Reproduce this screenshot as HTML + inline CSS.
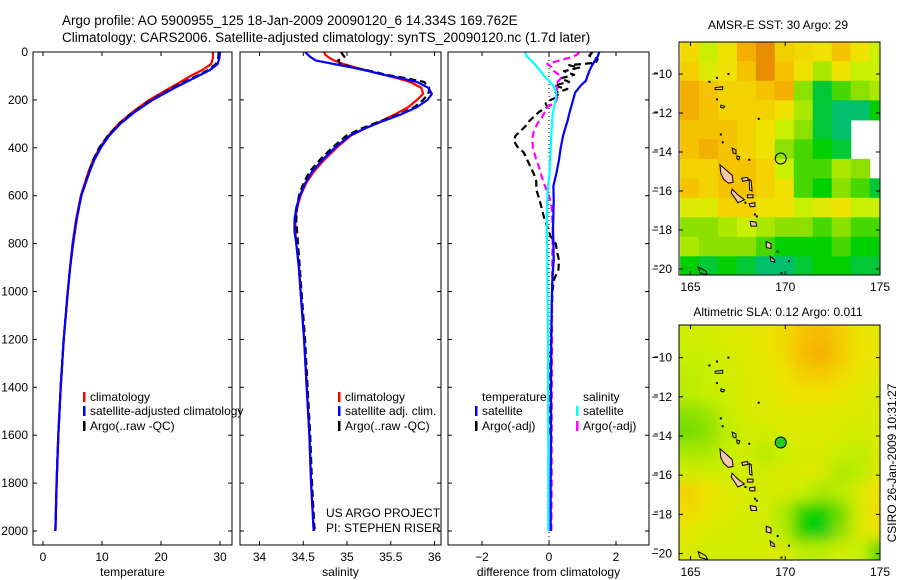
<!DOCTYPE html>
<html><head><meta charset="utf-8"><style>
html,body{margin:0;padding:0;background:#fff;}
svg{display:block;font-family:"Liberation Sans",sans-serif;}
</style></head><body>
<svg id="fig" width="900" height="580" viewBox="0 0 900 580" xmlns="http://www.w3.org/2000/svg">
<defs>
<clipPath id="c1"><rect x="33" y="52" width="199" height="493"/></clipPath>
<clipPath id="c2"><rect x="240" y="52" width="201" height="493"/></clipPath>
<clipPath id="c3"><rect x="448" y="52" width="201" height="493"/></clipPath>
<clipPath id="cm1"><rect x="679" y="42" width="201" height="233"/></clipPath>
<clipPath id="cm2"><rect x="679" y="325" width="201" height="235"/></clipPath>
<filter id="blur" x="-10%" y="-10%" width="120%" height="120%"><feGaussianBlur stdDeviation="7"/></filter>
</defs>
<text x="62" y="25" font-size="13.5">Argo profile: AO 5900955_125 18-Jan-2009 20090120_6 14.334S 169.762E</text>
<text x="62" y="42" font-size="13.5">Climatology: CARS2006. Satellite-adjusted climatology: synTS_20090120.nc (1.7d later)</text>
<g id="g1"></g>
<g id="g2"></g>
<g id="g3"></g>
<g id="m1"></g>
<g id="m2"></g>
<text transform="translate(896,463) rotate(-90)" text-anchor="middle" font-size="12">CSIRO 26-Jan-2009 10:31:27</text>
</svg>
<script>
// ---- profile data ----
const tDepth=[0,25,50,75,100,125,150,200,250,300,350,400,450,500,600,700,800,900,1000,1200,1400,1600,1800,2000];
const tClim=[28.8,28.8,28.5,27.0,25.0,23.3,21.5,18.0,15.2,12.8,11.0,9.6,8.5,7.7,6.4,5.6,5.0,4.6,4.2,3.5,3.0,2.6,2.3,2.1];
const tSat=[30.0,29.9,29.6,28.3,26.3,24.3,22.3,18.6,15.6,13.1,11.2,9.8,8.7,7.9,6.5,5.7,5.1,4.6,4.2,3.5,3.0,2.6,2.3,2.1];
const tArgo=[29.8,29.7,29.3,28.0,26.0,24.0,22.0,18.4,15.3,12.9,11.0,9.5,8.5,7.8,6.5,5.7,5.1,4.6,4.2,3.5,3.0,2.6,2.3,2.1];
const sDepth=[0,10,20,35,50,65,80,95,110,125,150,175,200,230,260,290,320,350,400,450,500,550,600,650,700,750,800,900,1000,1200,1400,1600,1800,2000];
const sSat=[34.52,34.55,34.58,34.64,34.85,35.06,35.25,35.42,35.62,35.80,35.93,35.97,35.92,35.80,35.62,35.40,35.20,35.03,34.86,34.72,34.60,34.52,34.46,34.42,34.40,34.40,34.42,34.45,34.47,34.51,34.54,34.57,34.59,34.62];
const sClim=[34.74,34.75,34.78,34.85,34.96,35.10,35.26,35.42,35.58,35.72,35.85,35.87,35.80,35.70,35.55,35.38,35.20,35.04,34.88,34.74,34.62,34.53,34.47,34.43,34.41,34.41,34.42,34.45,34.47,34.51,34.54,34.57,34.59,34.62];
const sArgo=[34.93,34.95,34.97,34.90,34.92,35.08,35.28,35.45,35.68,35.88,35.94,35.93,35.87,35.77,35.60,35.37,35.16,34.99,34.83,34.69,34.57,34.50,34.45,34.43,34.42,34.43,34.44,34.46,34.48,34.52,34.55,34.58,34.60,34.63];
const dDepth=[0,20,40,60,80,100,120,140,170,200,230,260,290,320,350,400,450,500,560,620,680,740,800,870,950,1050,1200,1400,1600,1800,2000];
const tSatDiff=[1.5,1.45,1.35,1.27,1.2,1.15,1.1,0.95,0.78,0.72,0.66,0.6,0.55,0.48,0.42,0.35,0.3,0.23,0.13,0.14,0.13,0.12,0.13,0.14,0.1,0.08,0.07,0.06,0.06,0.05,0.05];
const sSatDiff=[-0.72,-0.65,-0.5,-0.37,-0.25,-0.15,0.0,0.12,0.22,0.2,0.15,0.11,0.09,0.08,0.07,0.05,0.03,0.02,-0.03,-0.05,-0.06,-0.07,-0.06,-0.05,-0.05,-0.04,-0.03,-0.03,-0.02,-0.02,-0.02];
const tArgoDiffDepth=[0,15,30,45,55,65,80,95,110,125,140,155,170,185,200,215,230,250,270,290,310,330,350,370,395,420,450,480,510,540,575,610,650,690,730,770,800,840,870,910,950,1000,1100,1250,1400,1600];
const tArgoDiff=[1.3,1.2,1.45,1.4,0.6,0.9,0.45,0.75,0.35,0.6,0.15,0.55,0.2,0.3,0.05,-0.1,-0.05,-0.3,-0.45,-0.6,-0.7,-0.85,-1.0,-1.05,-0.95,-0.75,-0.65,-0.55,-0.45,-0.38,-0.38,-0.3,-0.22,-0.15,-0.05,0.05,0.2,0.25,0.3,0.28,0.15,0.1,0.08,0.05,0.04,0.03];
const sArgoDiffDepth=[0,10,20,30,40,50,60,75,90,105,120,135,150,170,190,210,230,250,270,300,330,360,400,440,480,520,560,600,650,700,760,850,1000,1200,1500,1800,2000];
const sArgoDiff=[0.9,0.85,0.7,0.45,0.2,-0.05,0.05,0.1,0.25,0.38,0.3,0.18,0.25,0.2,0.25,0.2,-0.05,-0.12,-0.2,-0.35,-0.45,-0.5,-0.48,-0.4,-0.3,-0.22,-0.12,0.0,0.08,0.1,0.11,0.1,0.09,0.09,0.08,0.08,0.07];
const depthTicks=[0,200,400,600,800,1000,1200,1400,1600,1800,2000];
const tTicks=[0,10,20,30];
const sTicks=[34,34.5,35,35.5,36];
const sTickLabels=['34','34.5','35','35.5','36'];
const dTicks=[-2,0,2];
const dTickLabels=['\u22122','0','2'];
// ---- map data (1-degree cells, rows from north) ----
const sstGrid=[
[0.72,0.6,0.7,0.82,0.88,0.75,0.72,0.7,0.78,0.7,0.6],
[0.75,0.65,0.7,0.78,0.88,0.78,0.7,0.55,0.7,0.6,0.6],
[0.82,0.78,0.74,0.74,0.78,0.82,0.5,0.35,0.45,0.5,0.55],
[0.82,0.78,0.74,0.74,0.74,0.7,0.55,0.35,0.3,0.3,0.4],
[0.78,0.78,0.78,0.74,0.7,0.6,0.5,0.35,0.3,-1,-1],
[0.78,0.82,0.78,0.74,0.7,0.5,0.45,0.4,0.35,-1,-1],
[0.74,0.74,0.78,0.78,0.74,0.6,0.45,0.45,0.55,0.5,-1],
[0.78,0.74,0.78,0.78,0.74,0.7,0.45,0.4,0.5,0.45,0.35],
[0.65,0.65,0.74,0.74,0.7,0.7,0.6,0.65,0.7,0.6,0.6],
[0.5,0.5,0.55,0.6,0.55,0.5,0.5,0.45,0.5,0.45,0.45],
[0.55,0.5,0.5,0.5,0.45,0.4,0.4,0.4,0.45,0.4,0.4],
[0.4,0.35,0.4,0.35,0.3,0.3,0.35,0.4,0.4,0.35,0.35]];
const slaGrid=[
[0.62,0.62,0.65,0.65,0.68,0.72,0.78,0.8,0.75,0.68,0.68],
[0.6,0.6,0.63,0.65,0.68,0.72,0.8,0.82,0.76,0.7,0.68],
[0.58,0.6,0.62,0.64,0.66,0.7,0.74,0.76,0.72,0.68,0.66],
[0.58,0.6,0.62,0.64,0.66,0.68,0.7,0.7,0.68,0.66,0.64],
[0.5,0.52,0.6,0.64,0.65,0.66,0.66,0.66,0.65,0.64,0.64],
[0.48,0.5,0.58,0.62,0.62,0.64,0.65,0.65,0.64,0.62,0.64],
[0.55,0.55,0.6,0.62,0.57,0.6,0.64,0.64,0.6,0.58,0.64],
[0.62,0.62,0.62,0.62,0.62,0.64,0.65,0.64,0.55,0.58,0.66],
[0.74,0.7,0.66,0.64,0.63,0.64,0.6,0.55,0.58,0.64,0.7],
[0.72,0.68,0.65,0.63,0.62,0.55,0.42,0.4,0.48,0.64,0.72],
[0.66,0.64,0.63,0.62,0.62,0.56,0.4,0.38,0.5,0.64,0.7],
[0.64,0.62,0.62,0.62,0.64,0.64,0.58,0.58,0.62,0.6,0.45]];
const latTicks=[-10,-12,-14,-16,-18,-20];
const lonTicks=[165,170,175];
const argoLon=169.762, argoLat=-14.334;

const NS='http://www.w3.org/2000/svg';
function mk(parent,tag,attrs,text){const e=document.createElementNS(NS,tag);for(const k in attrs)e.setAttribute(k,attrs[k]);if(text!==undefined)e.textContent=text;parent.appendChild(e);return e;}
const Y=d=>52+d*0.2395;
const X1=t=>43+t*5.9;
const X2=s=>259.5+(s-34)*87.5;
const X3=v=>549+v*33.5;

function panel(g,x0,x1,xs,ticks,labels,xlabel,clip){
  for(const d of depthTicks){
    const y=Y(d);
    let l=mk(g,'line',{x1:x0,y1:y,x2:x0+4,y2:y,stroke:'#000'});
    
    l=mk(g,'line',{x1:x1-4,y1:y,x2:x1,y2:y,stroke:'#000'});
    
  }
  ticks.forEach((v,i)=>{
    const x=xs(v);
    let l=mk(g,'line',{x1:x,y1:52,x2:x,y2:56,stroke:'#000'});
    
    l=mk(g,'line',{x1:x,y1:541,x2:x,y2:545,stroke:'#000'});
    
    const t=mk(g,'text',{x:x,y:561,'text-anchor':'middle','font-size':12},labels[i]);
    
  });
  const xl=mk(g,'text',{x:(x0+x1)/2,y:576,'text-anchor':'middle','font-size':12},xlabel);
  
  const inner=mk(g,'g',{'clip-path':'url(#'+clip+')'});
  
  const box=mk(g,'rect',{x:x0,y:52,width:x1-x0,height:493,fill:'none',stroke:'#000','stroke-width':1});
  
  return inner;
}
function line(g,depths,vals,xs,color,dash,name){
  const pts=depths.map((d,i)=>xs(vals[i]).toFixed(1)+','+Y(d).toFixed(1)).join(' ');
  const p=mk(g,'polyline',{points:pts,fill:'none',stroke:color,'stroke-width':2.2,'stroke-linejoin':'round'});
  if(dash)p.setAttribute('stroke-dasharray',dash);
  
  
}
function legend(g,x,y,color,label,name){
  const r=mk(g,'rect',{x:x,y:y-9,width:2.5,height:10,fill:color});
  
  if(label!==null){const t=mk(g,'text',{x:x+7,y:y,'font-size':12},label);
  }
}

const svg=document.getElementById('fig');
for(const d of depthTicks){
  const t=mk(svg,'text',{x:28,y:Y(d)+4,'text-anchor':'end','font-size':12},String(d));
  
  
}
const g1=document.getElementById('g1');
const p1=panel(g1,33,232,X1,tTicks,tTicks.map(String),'temperature','c1');
line(p1,tDepth,tClim,X1,'#ff0000',null,'temperature-climatology-line');
line(p1,tDepth,tArgo,X1,'#000',"7,4",'temperature-argo-line');
line(p1,tDepth,tSat,X1,'#0000ff',null,'temperature-satellite-line');
legend(g1,83,401,'#ff0000','climatology','legend-climatology');
legend(g1,83,415,'#0000ff','satellite-adjusted climatology','legend-satellite-adjusted');
legend(g1,83,430,'#000','Argo(..raw -QC)','legend-argo');
const g2=document.getElementById('g2');
const p2=panel(g2,240,441,X2,sTicks,sTickLabels,'salinity','c2');
line(p2,sDepth,sClim,X2,'#ff0000',null,'salinity-climatology-line');
line(p2,sDepth,sArgo,X2,'#000',"7,4",'salinity-argo-line');
line(p2,sDepth,sSat,X2,'#0000ff',null,'salinity-satellite-line');
legend(g2,338,401,'#ff0000','climatology','legend-climatology');
legend(g2,338,415,'#0000ff','satellite adj. clim.','legend-satellite-adj');
legend(g2,338,430,'#000','Argo(..raw -QC)','legend-argo');
const u1=mk(g2,'text',{x:326,y:517,'font-size':12},'US ARGO PROJECT');

const u2=mk(g2,'text',{x:326,y:532,'font-size':12},'PI: STEPHEN RISER');

const g3=document.getElementById('g3');
const p3=panel(g3,448,649,X3,dTicks,dTickLabels,'difference from climatology','c3');
const z=mk(p3,'line',{x1:X3(0),y1:52,x2:X3(0),y2:545,stroke:'#000','stroke-dasharray':'1,3'});

line(p3,tArgoDiffDepth,tArgoDiff,X3,'#000',"7,4",'temperature-argo-diff-line');
line(p3,sArgoDiffDepth,sArgoDiff,X3,'#ff00ff',"7,4",'salinity-argo-diff-line');
line(p3,dDepth,tSatDiff,X3,'#0000ff',null,'temperature-satellite-diff-line');
line(p3,dDepth,sSatDiff,X3,'#00ffff',null,'salinity-satellite-diff-line');
const lt=mk(g3,'text',{x:482,y:401,'font-size':12},'temperature');

const ls=mk(g3,'text',{x:583,y:401,'font-size':12},'salinity');

legend(g3,475,415,'#0000ff','satellite','legend-temp-satellite');
legend(g3,475,430,'#000','Argo(-adj)','legend-temp-argo');
legend(g3,576,415,'#00ffff','satellite','legend-sal-satellite');
legend(g3,576,430,'#ff00ff','Argo(-adj)','legend-sal-argo');
[73,112,150,188,227,266,357,395,434,473,512,549].forEach(y=>{
  const l=mk(svg,'line',{x1:654,y1:y,x2:658,y2:y,stroke:'#000'});
  
});

// ---- maps ----
const stops=[[0.1,[0,0,160]],[0.2,[0,160,255]],[0.3,[0,192,110]],[0.4,[0,208,0]],[0.5,[140,224,0]],[0.6,[200,240,0]],[0.7,[240,226,0]],[0.8,[246,186,0]],[0.9,[230,130,0]]];
function col(v){
  if(v<=stops[0][0])return 'rgb('+stops[0][1]+')';
  for(let i=1;i<stops.length;i++){if(v<=stops[i][0]){const a=stops[i-1],b=stops[i],f=(v-a[0])/(b[0]-a[0]);
    return 'rgb('+a[1].map((c,k)=>Math.round(c+(b[1][k]-c)*f)).join(',')+')';}}
  return 'rgb('+stops[stops.length-1][1]+')';
}
const MX=lon=>690.5+(lon-165)*18.95;
const islands=[
 [[166.55,-14.65],[166.8,-14.85],[167.2,-15.2],[167.25,-15.55],[167.0,-15.6],[166.75,-15.4],[166.6,-15.1]],
 [[167.2,-15.9],[167.5,-16.2],[167.85,-16.45],[167.5,-16.6],[167.3,-16.3],[167.15,-16.1]],
 [[168.15,-17.55],[168.45,-17.6],[168.5,-17.8],[168.2,-17.8]],
 [[169.0,-18.6],[169.25,-18.7],[169.25,-18.95],[169.0,-18.9]],
 [[169.2,-19.35],[169.4,-19.5],[169.45,-19.65],[169.25,-19.6]],
 [[167.7,-15.35],[168.0,-15.3],[168.05,-15.45],[167.75,-15.5]],
 [[168.1,-15.4],[168.2,-15.45],[168.25,-16.0],[168.12,-15.95]],
 [[168.0,-16.2],[168.3,-16.2],[168.3,-16.35],[168.0,-16.35]],
 [[168.1,-16.65],[168.4,-16.6],[168.4,-16.8],[168.15,-16.8]],
 [[165.4,-19.9],[165.8,-20.1],[165.9,-20.3],[165.5,-20.2]],
 [[166.3,-10.7],[166.7,-10.65],[166.7,-10.8],[166.3,-10.8]],
 [[167.2,-13.8],[167.4,-13.9],[167.4,-14.1],[167.25,-14.05]],
 [[167.45,-14.2],[167.6,-14.25],[167.55,-14.4],[167.45,-14.35]],
 [[166.6,-11.6],[166.8,-11.65],[166.75,-11.75],[166.6,-11.72]]
];
const dots=[[167.0,-10.0],[166.0,-10.4],[166.4,-10.2],[166.4,-11.3],[168.6,-12.3],[166.6,-13.1],[166.7,-13.5],[168.1,-14.4],[168.4,-17.2],[168.5,-17.3],[169.8,-20.2],[169.6,-19.1],[170.2,-19.6],[167.9,-16.6]];
function map(id,top,bot,yLat0,ppd,grid,blur,title,titleY,xlabY,circleFill,clip){
  const g=document.getElementById(id);
  const MY=lat=>yLat0+(-10-lat)*ppd;
  const tt=mk(g,'text',{x:778,y:titleY,'text-anchor':'middle','font-size':12},title);
  
  const c=mk(g,'g',{'clip-path':'url(#'+clip+')'});
  
  const bg=mk(c,'rect',{x:679,y:top,width:201,height:bot-top,fill:blur?col(0.63):'#fff'});
  
  const cells=mk(c,'g',blur?{filter:'url(#blur)'}:{});
  
  grid.forEach((row,r)=>row.forEach((v,k)=>{
    if(v<0)return;
    const lat0=-8.35-r, lon0=164.45+k;
    let x=MX(lon0),y=MY(lat0),w=18.95+0.6,h=ppd+0.6;
    if(blur){if(k===0){x-=20;w+=20;} if(k===row.length-1){w+=20;} if(r===0){y-=20;h+=20;} if(r===grid.length-1){h+=20;}}
    const rc=mk(cells,'rect',{x:x.toFixed(1),y:y.toFixed(1),width:w.toFixed(1),height:h.toFixed(1),fill:col(v)});
    
    
  }));
  islands.forEach((pl,i)=>{
    const p=mk(c,'polygon',{points:pl.map(q=>MX(q[0]).toFixed(1)+','+MY(q[1]).toFixed(1)).join(' '),fill:i===9||i>=10?'none':'#f6c6a6',stroke:'#000','stroke-width':1});
    
    
  });
  dots.forEach(q=>{
    const d=mk(c,'rect',{x:MX(q[0])-1,y:MY(q[1])-1,width:2,height:2,fill:'#000'});
    
    
  });
  const ci=mk(c,'circle',{cx:MX(argoLon),cy:MY(argoLat),r:5.5,fill:circleFill,stroke:'#000','stroke-width':1});
  
  const box=mk(g,'rect',{x:679,y:top,width:201,height:bot-top,fill:'none',stroke:'#000'});
  
  latTicks.forEach(l=>{
    const y=MY(l);
    let a=mk(g,'line',{x1:679,y1:y,x2:683,y2:y,stroke:'#000'});
    
    a=mk(g,'line',{x1:876,y1:y,x2:880,y2:y,stroke:'#000'});
    
    const t=mk(g,'text',{x:672,y:y+4,'text-anchor':'end','font-size':12},String(l).replace('-','\u2212'));
    
  });
  lonTicks.forEach(l=>{
    const x=MX(l);
    let a=mk(g,'line',{x1:x,y1:top,x2:x,y2:top+4,stroke:'#000'});
    
    a=mk(g,'line',{x1:x,y1:bot-4,x2:x,y2:bot,stroke:'#000'});
    
    const t=mk(g,'text',{x:x,y:xlabY,'text-anchor':'middle','font-size':12},String(l));
    
  });
}
map('m1',42,275,74,19.5,sstGrid,false,'AMSR-E SST: 30 Argo: 29',29,291,'none','cm1');
map('m2',325,560,357.6,19.6,slaGrid,true,'Altimetric SLA: 0.12 Argo: 0.011',316,576,'#22cc22','cm2');
</script>
</body></html>
